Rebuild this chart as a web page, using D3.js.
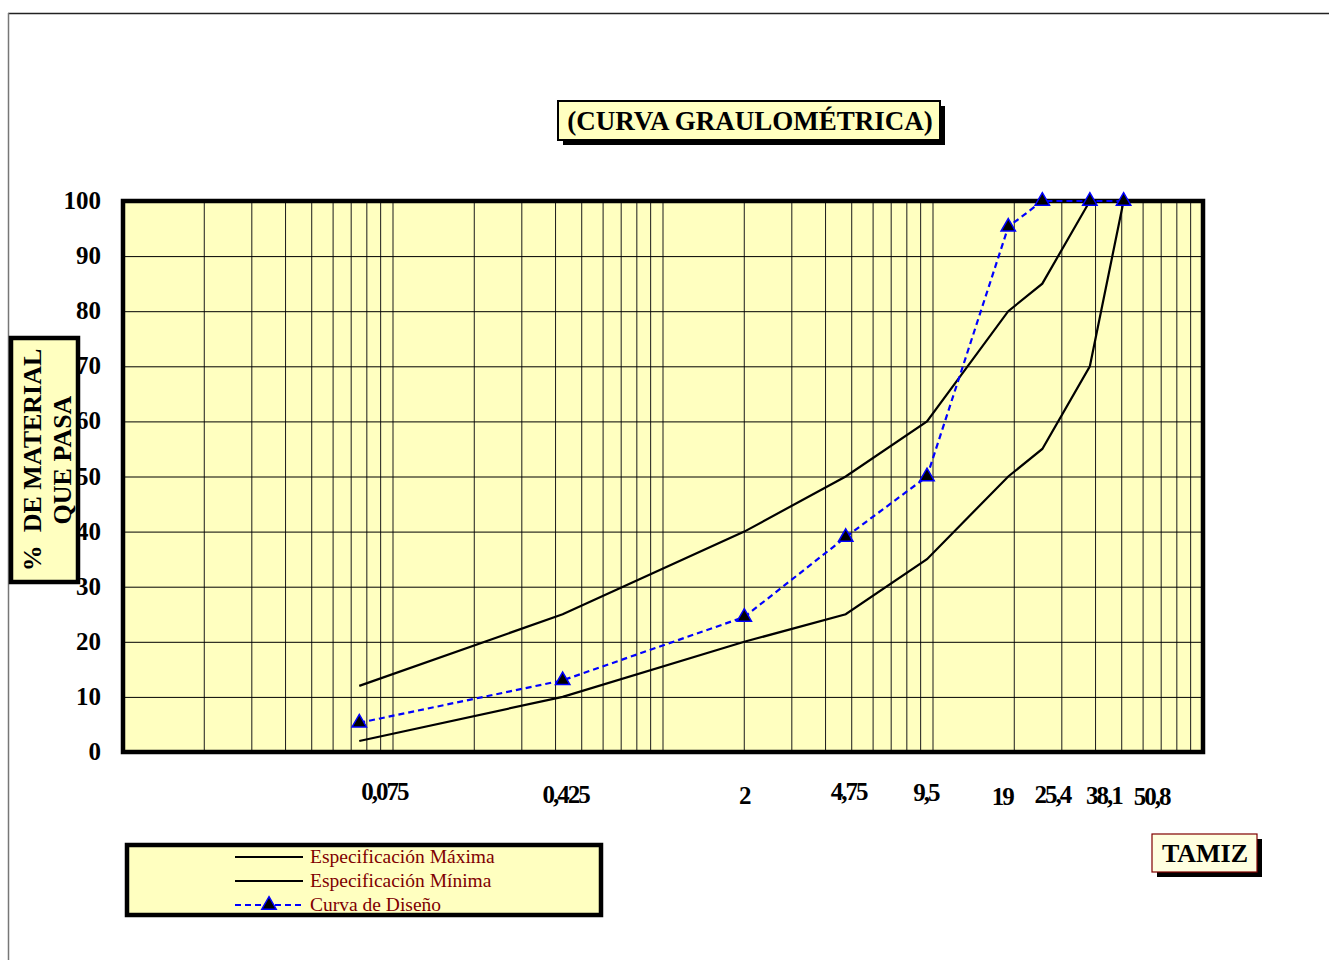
<!DOCTYPE html>
<html>
<head>
<meta charset="utf-8">
<script src="https://cdn.jsdelivr.net/npm/d3@7/dist/d3.min.js"></script>
<style>
  html, body { margin: 0; padding: 0; background: #fff; }
  svg { display: block; }
  text { font-family: "Liberation Serif", "Times New Roman", serif; }
</style>
</head>
<body>
<svg id="chart" width="1329" height="960"></svg>
<script>
// Sieve openings (mm) and their printed labels
const sieves = [0.075, 0.425, 2, 4.75, 9.5, 19, 25.4, 38.1, 50.8];
const sieveLabels = ["0,075", "0,425", "2", "4,75", "9,5", "19", "25,4", "38,1", "50,8"];

// Percent passing for each sieve
const specMax = [12, 25, 40, 50, 60, 80, 85, 100, 100];
const specMin = [2, 10, 20, 25, 35, 50, 55, 70, 100];
const design  = [5.3, 13, 24.5, 39, 50, 95.3, 100, 100, 100];

const yTicks = [0, 10, 20, 30, 40, 50, 60, 70, 80, 90, 100];

const legendNames = ["Especificación Máxima", "Especificación Mínima", "Curva de Diseño"];

// ---- layout ----
const plot = { left: 123, right: 1203, top: 201, bottom: 752 };
const YELLOW = "#FFFFC0";
const DARKRED = "#800000";

// label nudges so the crowded coarse-sieve labels do not overlap
const labelNudge = [[25, -3], [3, 0], [0, 1], [3, -3], [-1, -2], [-6, 2], [10, 0], [14, 1], [28, 2]];

const svg = d3.select("#chart");

const x = d3.scaleLog().domain([0.01, 100]).range([plot.left, plot.right]);
const y = d3.scaleLinear().domain([0, 100]).range([plot.bottom, plot.top]);

// outer chart-area frame
svg.append("line").attr("x1", 8).attr("x2", 1329).attr("y1", 13.5).attr("y2", 13.5)
  .attr("stroke", "#222").attr("stroke-width", 1.5);
svg.append("line").attr("x1", 8.5).attr("x2", 8.5).attr("y1", 13).attr("y2", 960)
  .attr("stroke", "#777").attr("stroke-width", 1.5);

// plot background
svg.append("rect")
  .attr("x", plot.left).attr("y", plot.top)
  .attr("width", plot.right - plot.left).attr("height", plot.bottom - plot.top)
  .attr("fill", YELLOW);

// vertical log grid (1..9 in every decade)
const logGrid = [];
for (let e = -2; e < 2; e++) {
  for (let m = 1; m <= 9; m++) logGrid.push(m * Math.pow(10, e));
}
svg.append("g").selectAll("line").data(logGrid).join("line")
  .attr("x1", d => x(d)).attr("x2", d => x(d))
  .attr("y1", plot.top).attr("y2", plot.bottom)
  .attr("stroke", "#1a1a1a").attr("stroke-width", 1);

// horizontal grid
svg.append("g").selectAll("line").data(yTicks.slice(1, -1)).join("line")
  .attr("x1", plot.left).attr("x2", plot.right)
  .attr("y1", d => y(d) + 0.5).attr("y2", d => y(d) + 0.5)
  .attr("stroke", "#000").attr("stroke-width", 1);

// plot border
svg.append("rect")
  .attr("x", plot.left).attr("y", plot.top)
  .attr("width", plot.right - plot.left).attr("height", plot.bottom - plot.top)
  .attr("fill", "none").attr("stroke", "#000").attr("stroke-width", 4.5);

// y tick labels
svg.append("g").selectAll("text").data(yTicks).join("text")
  .attr("x", 101).attr("y", d => y(d) + 8)
  .attr("text-anchor", "end")
  .attr("font-size", 25).attr("font-weight", "bold")
  .text(d => d);

// x tick labels
svg.append("g").selectAll("text").data(sieves).join("text")
  .attr("x", (d, i) => x(d) + labelNudge[i][0])
  .attr("y", (d, i) => 803 + labelNudge[i][1])
  .attr("text-anchor", "middle")
  .attr("font-size", 25).attr("font-weight", "bold")
  .attr("letter-spacing", -2)
  .text((d, i) => sieveLabels[i]);

// series
const line = d3.line().x(d => x(d[0])).y(d => y(d[1]));
const pts = vals => sieves.map((s, i) => [s, vals[i]]);

svg.append("path").datum(pts(specMax)).attr("d", line)
  .attr("fill", "none").attr("stroke", "#000").attr("stroke-width", 2.2);
svg.append("path").datum(pts(specMin)).attr("d", line)
  .attr("fill", "none").attr("stroke", "#000").attr("stroke-width", 2.2);
svg.append("path").datum(pts(design)).attr("d", line)
  .attr("fill", "none").attr("stroke", "#0000FF").attr("stroke-width", 2.2)
  .attr("stroke-dasharray", "6,4");

const tri = d3.symbol().type(d3.symbolTriangle).size(90);
svg.append("g").selectAll("path").data(pts(design)).join("path")
  .attr("transform", d => `translate(${x(d[0])},${y(d[1])})`)
  .attr("d", tri)
  .attr("fill", "#000").attr("stroke", "#0000FF").attr("stroke-width", 1.5);

// boxes with a drop shadow
function shadowBox(x0, y0, w, h, stroke, sw, fill) {
  svg.append("rect").attr("x", x0 + 5).attr("y", y0 + 5).attr("width", w).attr("height", h)
    .attr("fill", "#000");
  svg.append("rect").attr("x", x0).attr("y", y0).attr("width", w).attr("height", h)
    .attr("fill", fill).attr("stroke", stroke).attr("stroke-width", sw);
}
shadowBox(558, 101, 382, 39, "#000", 2, YELLOW);
svg.append("text").attr("x", 750).attr("y", 130)
  .attr("text-anchor", "middle").attr("font-size", 27).attr("font-weight", "bold")
  .text("(CURVA GRAULOMÉTRICA)");

// TAMIZ box
shadowBox(1152, 834, 105, 38, DARKRED, 1.2, "#FFFFE0");
svg.append("text").attr("x", 1205).attr("y", 862)
  .attr("text-anchor", "middle").attr("font-size", 26).attr("font-weight", "bold")
  .text("TAMIZ");

// y-axis title box
svg.append("rect").attr("x", 11).attr("y", 338).attr("width", 67).attr("height", 244)
  .attr("fill", YELLOW).attr("stroke", "#000").attr("stroke-width", 4.5);
const yTitle = svg.append("text")
  .attr("transform", "translate(0,460) rotate(-90)")
  .attr("text-anchor", "middle").attr("font-size", 26).attr("font-weight", "bold")
  .style("white-space", "pre");
yTitle.append("tspan").attr("x", 0).attr("y", 41).text("%  DE MATERIAL");
yTitle.append("tspan").attr("x", 0).attr("y", 71).text("QUE PASA");

// legend
svg.append("rect").attr("x", 127).attr("y", 845).attr("width", 474).attr("height", 70)
  .attr("fill", YELLOW).attr("stroke", "#000").attr("stroke-width", 4.5);
const rowY = [857, 881, 905];
const leg = svg.append("g").selectAll("g").data(legendNames).join("g")
  .attr("transform", (d, i) => `translate(0,${rowY[i]})`);
leg.append("line").attr("x1", 235).attr("x2", 303).attr("y1", 0).attr("y2", 0)
  .attr("stroke", (d, i) => i === 2 ? "#0000FF" : "#000")
  .attr("stroke-width", 2.2)
  .attr("stroke-dasharray", (d, i) => i === 2 ? "6,4" : null);
leg.filter((d, i) => i === 2).append("path")
  .attr("transform", "translate(269,0)")
  .attr("d", tri).attr("fill", "#000").attr("stroke", "#0000FF").attr("stroke-width", 1.5);
leg.append("text").attr("x", 310).attr("y", 6)
  .attr("font-size", 19.5).attr("fill", DARKRED)
  .text(d => d);
</script>
</body>
</html>
